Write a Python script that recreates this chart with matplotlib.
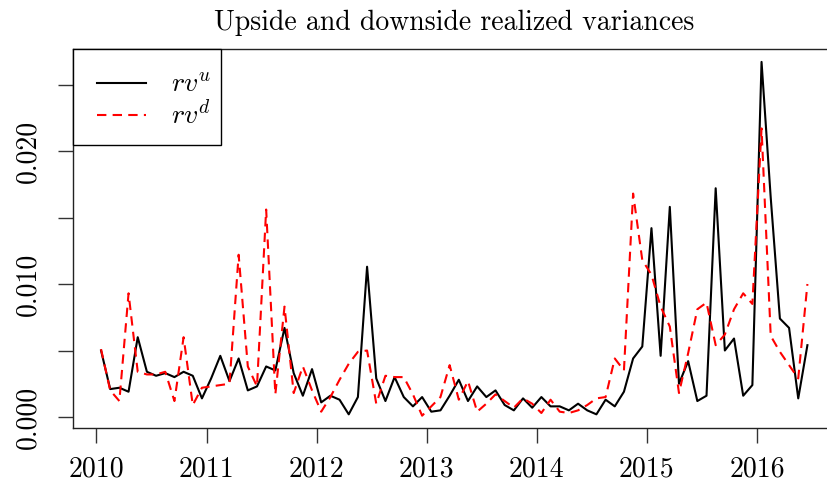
import numpy as np
import matplotlib
matplotlib.use("Agg")
import matplotlib.pyplot as plt
from matplotlib.patches import Rectangle

plt.rcParams['font.family'] = 'serif'
plt.rcParams['font.serif'] = ['cmr10']
plt.rcParams['mathtext.fontset'] = 'cm'
plt.rcParams['axes.unicode_minus'] = False

start_year = 2010
rv_u = [0.0050, 0.0021, 0.0022, 0.0019, 0.0060, 0.0034, 0.0031, 0.0033, 0.0030, 0.0034,
        0.0031, 0.0014, 0.0029, 0.0046, 0.0027, 0.0044, 0.0020, 0.0023, 0.0038, 0.0035,
        0.0067, 0.0033, 0.0016, 0.0036, 0.0011, 0.0016, 0.0013, 0.0002, 0.0015, 0.0113,
        0.0029, 0.0012, 0.0030, 0.0015, 0.0008, 0.0015, 0.0004, 0.0005, 0.0016, 0.0028,
        0.0012, 0.0023, 0.0015, 0.0020, 0.0009, 0.0005, 0.0014, 0.0007, 0.0015, 0.0008,
        0.0008, 0.0005, 0.0010, 0.0005, 0.0002, 0.0013, 0.0008, 0.0019, 0.0044, 0.0053,
        0.0142, 0.0046, 0.0158, 0.0025, 0.0042, 0.0012, 0.0016, 0.0172, 0.0050, 0.0059,
        0.0016, 0.0024, 0.0267, 0.0165, 0.0074, 0.0067, 0.0014, 0.0054]
rv_d = [0.0051, 0.0020, 0.0012, 0.0093, 0.0034, 0.0032, 0.0032, 0.0034, 0.0012, 0.0060,
        0.0009, 0.0022, 0.0023, 0.0024, 0.0025, 0.0122, 0.0038, 0.0023, 0.0156, 0.0017,
        0.0083, 0.0018, 0.0038, 0.0020, 0.0004, 0.0015, 0.0028, 0.0040, 0.0049, 0.0050,
        0.0010, 0.0031, 0.0030, 0.0030, 0.0017, 0.0001, 0.0008, 0.0015, 0.0039, 0.0013,
        0.0027, 0.0004, 0.0010, 0.0017, 0.0012, 0.0007, 0.0014, 0.0010, 0.0003, 0.0013,
        0.0004, 0.0003, 0.0005, 0.0009, 0.0014, 0.0015, 0.0044, 0.0035, 0.0168, 0.0118,
        0.0107, 0.0083, 0.0068, 0.0018, 0.0048, 0.0081, 0.0086, 0.0054, 0.0062, 0.0081,
        0.0093, 0.0085, 0.0217, 0.0061, 0.0049, 0.0039, 0.0029, 0.0100]
x_ticks = [2010, 2011, 2012, 2013, 2014, 2015, 2016]
y_ticks = [0.000, 0.005, 0.010, 0.015, 0.020, 0.025]
y_labels = ["0.000", "", "0.010", "", "0.020", ""]
title = "Upside and downside realized variances"

t = start_year + (np.arange(len(rv_u)) + 0.5) / 12.0

W, H = 827, 494
fig = plt.figure(figsize=(W / 100, H / 100), dpi=100)
left, right, top, bottom = 73, 836, 49, 428
ax = fig.add_axes([left / W, 1 - bottom / H, (right - left) / W, (bottom - top) / H])

ax.plot(t, rv_u, color='black', lw=1.5, label=r'$rv^u$')
ax.plot(t, rv_d, color='red', lw=1.5, dashes=(4.5, 3), label=r'$rv^d$')

ax.set_xlim(2009.787, 2016.718)
ax.set_ylim(-0.000827, 0.02767)

ax.set_xticks(x_ticks)
ax.set_xticklabels([str(v) for v in x_ticks], fontsize=20)
ax.set_yticks(y_ticks)
ax.set_yticklabels(y_labels, fontsize=20, rotation=90, va='center')
ax.tick_params(direction='out', length=11, width=1.0, color='#333333')
ax.tick_params(axis='x', pad=9)
ax.tick_params(axis='y', pad=12)
for s in ax.spines.values():
    s.set_linewidth(1.0)
    s.set_color('#222222')

ax.set_title(title, fontsize=20, pad=14)

# legend box (R style, asymmetric padding)
box = Rectangle((left / W, 1 - 145 / H), (221 - left) / W, (145 - top) / H,
                transform=fig.transFigure, facecolor='white', edgecolor='black',
                linewidth=1.0, zorder=5, clip_on=False)
ax.add_patch(box)
leg = ax.legend(loc='upper left', bbox_to_anchor=(97 / W, 1 - 72 / H),
                bbox_transform=fig.transFigure, borderaxespad=0, borderpad=0,
                frameon=False, fontsize=20,
                handlelength=1.75, handletextpad=0.9, labelspacing=0.1)
leg.set_zorder(6)

fig.savefig("out.png", dpi=100)
